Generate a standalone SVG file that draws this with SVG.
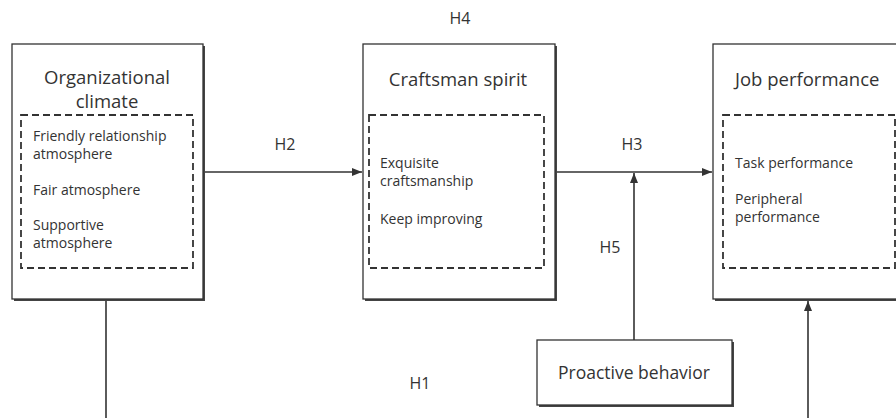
<svg xmlns="http://www.w3.org/2000/svg" width="896" height="418" viewBox="0 0 896 418">
<defs>
<style>
.shadow{fill:#444;}
.box{fill:#fff;stroke:#333;stroke-width:1.3;}
.dash{fill:none;stroke:#333;stroke-width:1.8;stroke-dasharray:7,4;}
.title{font-family:"Open Sans","Noto Sans",sans-serif;font-size:18.5px;fill:#333;}
.item{font-family:"Open Sans","Noto Sans",sans-serif;font-size:14px;fill:#333;}
.lbl{font-family:"Open Sans","Noto Sans",sans-serif;font-size:16px;fill:#333;}
.conn{fill:none;stroke:#333;stroke-width:1.6;}
</style>
<marker id="arrB" viewBox="0 0 10 10" refX="10" refY="5" markerWidth="14" markerHeight="10" orient="auto" markerUnits="userSpaceOnUse">
<path d="M0,1 L10,5 L0,9 z" fill="#333"/>
</marker>
</defs>
<rect width="896" height="418" fill="#fff"/>

<g id="connectors">
<line class="conn" x1="204" y1="172" x2="362" y2="172" marker-end="url(#arrB)"/>
<line class="conn" x1="556" y1="172" x2="712" y2="172" marker-end="url(#arrB)"/>
<line class="conn" x1="634" y1="340" x2="634" y2="173" marker-end="url(#arrB)"/>
<line class="conn" x1="106" y1="300" x2="106" y2="418"/>
<line class="conn" x1="808" y1="418" x2="808" y2="301" marker-end="url(#arrB)"/>
</g>

<g id="node-climate">
<rect class="shadow" x="14" y="46" width="191" height="255"/>
<rect class="box" x="12" y="44" width="191" height="255"/>
<rect class="dash" x="21" y="115" width="172" height="153"/>
<text class="title" x="107" y="84" text-anchor="middle">Organizational</text>
<text class="title" x="107" y="108" text-anchor="middle">climate</text>
<text class="item" x="33" y="141">Friendly relationship</text>
<text class="item" x="33" y="159">atmosphere</text>
<text class="item" x="33" y="195">Fair atmosphere</text>
<text class="item" x="33" y="230">Supportive</text>
<text class="item" x="33" y="248">atmosphere</text>
</g>

<g id="node-craftsman">
<rect class="shadow" x="365" y="46" width="192" height="255"/>
<rect class="box" x="363" y="44" width="192" height="255"/>
<rect class="dash" x="369" y="115" width="175" height="153"/>
<text class="title" x="458" y="86" text-anchor="middle">Craftsman spirit</text>
<text class="item" x="380" y="168">Exquisite</text>
<text class="item" x="380" y="186">craftsmanship</text>
<text class="item" x="380" y="224">Keep improving</text>
</g>

<g id="node-job">
<rect class="shadow" x="715" y="46" width="190" height="255"/>
<rect class="box" x="713" y="44" width="190" height="255"/>
<rect class="dash" x="723" y="115" width="172" height="153"/>
<text class="title" x="735" y="86">Job performance</text>
<text class="item" x="735" y="168">Task performance</text>
<text class="item" x="735" y="204">Peripheral</text>
<text class="item" x="735" y="222">performance</text>
</g>

<g id="node-proactive">
<rect class="shadow" x="539" y="342" width="195" height="65"/>
<rect class="box" x="537" y="340" width="195" height="65"/>
<text class="title" x="634" y="379" text-anchor="middle" style="font-size:17.5px">Proactive behavior</text>
</g>

<g id="labels">
<text class="lbl" x="460" y="24" text-anchor="middle">H4</text>
<text class="lbl" x="285" y="150" text-anchor="middle">H2</text>
<text class="lbl" x="632" y="150" text-anchor="middle">H3</text>
<text class="lbl" x="610" y="253" text-anchor="middle">H5</text>
<text class="lbl" x="420" y="389" text-anchor="middle">H1</text>
</g>
</svg>
